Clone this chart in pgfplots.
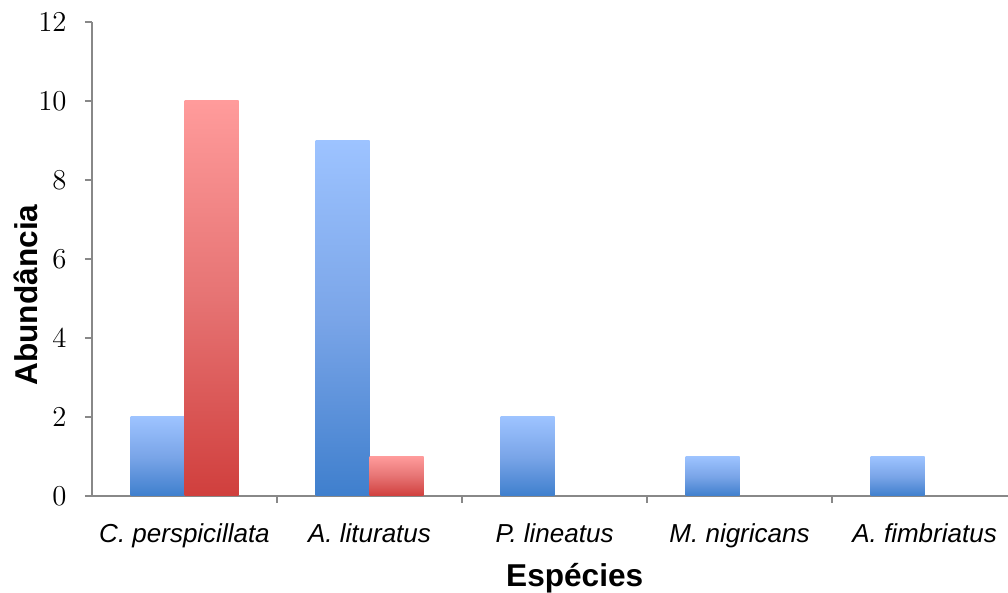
\documentclass[border=0pt]{standalone}
\usepackage{fontspec}
\setmainfont{Liberation Sans}
\usepackage{pgfplots}
\pgfplotsset{compat=1.18}

\definecolor{axisgray}{RGB}{136,136,136}
\definecolor{blueTop}{RGB}{157,195,255}
\definecolor{blueMid}{RGB}{122,165,232}
\definecolor{blueBot}{RGB}{63,127,205}
\definecolor{redTop}{RGB}{255,155,155}
\definecolor{redMid}{RGB}{230,115,115}
\definecolor{redBot}{RGB}{208,63,61}

% each bar is its own plot so that its gradient spans its own height
\pgfplotsset{
  bluebar/.style={draw=none, bar shift=-13.5pt, top color=blueTop, bottom color=blueBot, middle color=blueMid, forget plot},
  redbar/.style={draw=none, bar shift=13.5pt, top color=redTop, bottom color=redBot, middle color=redMid, forget plot},
}

\begin{document}
\begin{tikzpicture}
\begin{axis}[
  at={(0,0)}, anchor=south west,
  scale only axis,
  width=458pt, height=237pt,
  xmin=-0.5, xmax=4.451,
  ymin=0, ymax=12,
  ytick={0,2,...,12},
  xtick={0,1,2,3,4},
  xticklabels={\textit{C. perspicillata},\textit{A. lituratus},\textit{P. lineatus},\textit{M. nigricans},\textit{A. fimbriatus}},
  minor xtick={0.5,1.5,2.5,3.5},
  axis x line*=bottom,
  axis y line*=left,
  axis line style={draw=axisgray, line width=1pt},
  tick align=outside,
  major tick length=3.5pt,
  minor tick length=3.5pt,
  major x tick style={draw=none},
  minor x tick style={draw=axisgray, line width=1pt},
  major y tick style={draw=axisgray, line width=1pt},
  xticklabel style={font=\fontsize{13}{15}\selectfont, anchor=base, inner sep=0pt, yshift=-19.75pt},
  yticklabel style={font=\fontsize{15}{18}\selectfont, anchor=east, inner sep=0pt, xshift=-9pt},
  xlabel={Espécies},
  ylabel={Abundância},
  xlabel style={font=\fontsize{15.8}{19}\selectfont\bfseries, at={(axis description cs:0.527,-0.19)}, anchor=base, inner sep=0pt},
  ylabel style={font=\fontsize{15.8}{19}\selectfont\bfseries, at={(axis description cs:-0.0721,0.424)}, anchor=center, inner sep=0pt},
  ybar, bar width=27pt,
  clip=false,
]
% blue series, left bar of each species
\addplot[bluebar] coordinates {(0,2)};
\addplot[bluebar] coordinates {(1,9)};
\addplot[bluebar] coordinates {(2,2)};
\addplot[bluebar] coordinates {(3,1)};
\addplot[bluebar] coordinates {(4,1)};
% red series, right bar of each species
\addplot[redbar] coordinates {(0,10)};
\addplot[redbar] coordinates {(1,1)};
\end{axis}
\pgfresetboundingbox
\path (-46pt,-48.5pt) rectangle (458pt,248pt);
\end{tikzpicture}
\end{document}
